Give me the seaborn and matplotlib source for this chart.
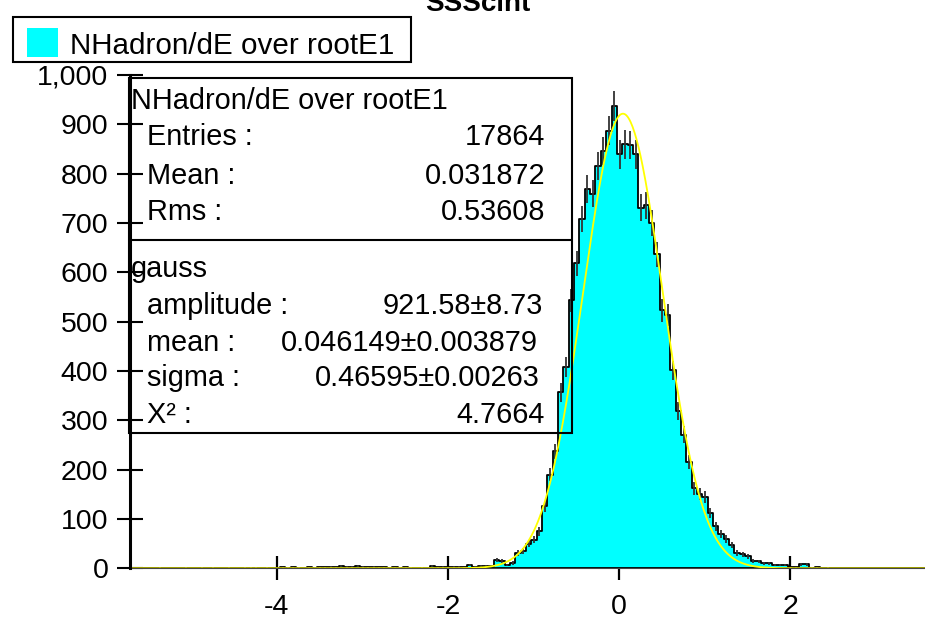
import numpy as np
import pandas as pd
import matplotlib
matplotlib.use("Agg")
import matplotlib.pyplot as plt
import seaborn as sns
from matplotlib.patches import Rectangle
from matplotlib.lines import Line2D
from matplotlib.ticker import FuncFormatter

# ---------------- data ----------------
title = "SSScint"
hist_name = "NHadron/dE over rootE1"
bin_start = -5.7125
bin_width = 0.0625
counts = [
    0, 0, 0, 0, 0, 1, 0, 0, 0, 0,
    1, 0, 0, 1, 0, 1, 0, 0, 1, 0,
    0, 1, 1, 1, 0, 1, 0, 0, 2, 1,
    2, 1, 0, 2, 1, 2, 2, 3, 2, 4,
    3, 3, 4, 3, 2, 3, 2, 2, 1, 2,
    1, 2, 1, 0, 1, 0, 5, 2, 3, 2,
    3, 3, 2, 7, 3, 5, 5, 5, 17, 15,
    7, 11, 31, 35, 50, 58, 75, 126, 190, 237,
    357, 408, 543, 618, 708, 769, 759, 816, 846, 887,
    937, 839, 860, 858, 839, 731, 736, 700, 637, 523,
    513, 401, 319, 271, 215, 162, 150, 145, 112, 85,
    69, 59, 47, 31, 28, 24, 15, 14, 10, 10,
    7, 7, 7, 2, 2, 8, 8, 1, 2, 0,
    1, 0, 0, 0, 0, 0, 0, 0, 0, 0,
    0, 0, 0, 0, 0, 0, 0, 0, 0,
]
stat_labels = ["Entries :", "Mean :", "Rms :"]
stat_values = ["17864", "0.031872", "0.53608"]
fit_name = "gauss"
fit_labels = ["amplitude :", "mean :", "sigma :", "X\u00b2 :"]
fit_values = ["921.58\u00b18.73", "0.046149\u00b10.003879",
              "0.46595\u00b10.00263", "4.7664"]
fit_amp, fit_mean, fit_sigma = 921.58, 0.046149, 0.46595
x_ticks = [-4, -2, 0, 2]
y_ticks = [0, 100, 200, 300, 400, 500, 600, 700, 800, 900, 1000]

# ---------------- style ----------------
sns.set_theme(style="white")
plt.rcParams["font.family"] = ["Liberation Sans", "DejaVu Sans"]
plt.rcParams["axes.unicode_minus"] = False
plt.rcParams["text.color"] = "black"

W, H = 925, 622
def fx(px):
    return px / W
def fy(py):
    return 1 - py / H

fig = plt.figure(figsize=(W / 100, H / 100), dpi=100)
fig.patch.set_facecolor("white")
ax = fig.add_axes([fx(130), fy(568.3), (W - 130) / W, (568.3 - 75) / H])
ax.set_facecolor("none")

counts_arr = np.array(counts, dtype=float)
n_bins = len(counts_arr)
bin_end = bin_start + bin_width * n_bins
centers = bin_start + bin_width * (np.arange(n_bins) + 0.5)
df = pd.DataFrame({"x": centers, "n": counts_arr})

sns.histplot(data=df, x="x", weights="n", bins=n_bins,
             binrange=(bin_start, bin_end), element="step",
             fill=True, color="#00FFFF", alpha=1.0, edgecolor="black",
             linewidth=1.3, ax=ax, zorder=2)

nz = df[df["n"] > 0]
ax.errorbar(nz["x"], nz["n"], yerr=np.sqrt(nz["n"]), fmt="none",
            ecolor="#333333", elinewidth=1.3, zorder=3)

xf = np.linspace(-5.72, 3.6, 800)
fit_df = pd.DataFrame({"x": xf,
                       "y": fit_amp * np.exp(-0.5 * ((xf - fit_mean) / fit_sigma) ** 2)})
sns.lineplot(data=fit_df, x="x", y="y", color="#FFFF00", linewidth=1.3,
             ax=ax, zorder=4)

ax.set_xlim(-5.716, 3.577)
ax.set_ylim(0, 1000)
ax.set_xticks(x_ticks)
ax.set_yticks(y_ticks)
ax.yaxis.set_major_formatter(FuncFormatter(lambda v, p: f"{int(v):,}"))
ax.set_xlabel("")
ax.set_ylabel("")
ax.set_axisbelow(True)
ax.grid(False)
for s in ["top", "right"]:
    ax.spines[s].set_visible(False)
ax.spines["left"].set_linewidth(2.2)
ax.spines["left"].set_color("black")
ax.spines["left"].set_zorder(5)
ax.spines["bottom"].set_linewidth(0.8)
ax.spines["bottom"].set_color("#444444")
ax.tick_params(axis="y", direction="inout", length=19, width=1.5,
               labelsize=20.5, pad=6, color="black", left=True,
               labelcolor="black")
ax.tick_params(axis="x", direction="inout", length=17, width=1.6,
               labelsize=20.5, pad=10, color="black", bottom=True,
               labelcolor="black")

# ---------------- title ----------------
fig.text(fx(478), fy(11), title, ha="center", va="baseline",
         fontsize=20, fontweight="bold", color="black")

# ---------------- legend box ----------------
fig.add_artist(Rectangle((fx(13), fy(62)), (411 - 13) / W, (62 - 17) / H,
                         transform=fig.transFigure, fill=False,
                         edgecolor="black", linewidth=1.5))
fig.add_artist(Rectangle((fx(27), fy(57)), (58 - 27) / W, (57 - 28) / H,
                         transform=fig.transFigure, facecolor="#00FFFF",
                         edgecolor="none"))
fig.text(fx(70), fy(46), hist_name, ha="left", va="center", fontsize=21.3,
         color="black")

# ---------------- stats box ----------------
fig.add_artist(Rectangle((fx(129), fy(433)), (572 - 129) / W, (433 - 78) / H,
                         transform=fig.transFigure, fill=False,
                         edgecolor="black", linewidth=1.5, zorder=6))
fig.add_artist(Line2D([fx(129), fx(572)], [fy(240), fy(240)],
                      transform=fig.transFigure, color="black",
                      linewidth=1.5, zorder=6))
fs = 20.8
fig.text(fx(131), fy(101), hist_name, ha="left", va="center", fontsize=fs,
         color="black")
stat_y = [137, 176, 212]
for lab, val, yy in zip(stat_labels, stat_values, stat_y):
    fig.text(fx(147), fy(yy), lab, ha="left", va="center", fontsize=fs,
             color="black")
    fig.text(fx(545), fy(yy), val, ha="right", va="center", fontsize=fs,
             color="black")
fig.text(fx(131), fy(269), fit_name, ha="left", va="center", fontsize=fs,
         color="black")
fit_y = [306, 343, 378, 415]
fit_right = [543, 538, 540, 545]
for lab, val, yy, xr in zip(fit_labels, fit_values, fit_y, fit_right):
    fig.text(fx(147), fy(yy), lab, ha="left", va="center", fontsize=fs,
             color="black")
    fig.text(fx(xr), fy(yy), val, ha="right", va="center", fontsize=fs,
             color="black")

fig.savefig("out.png", dpi=100)
